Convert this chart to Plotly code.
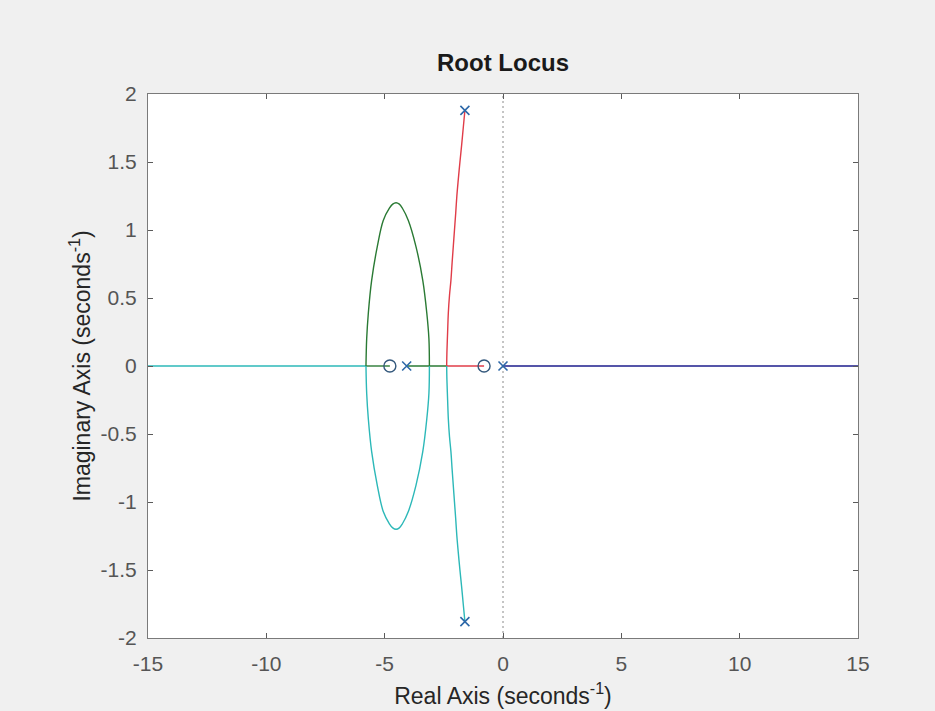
import plotly.graph_objects as go

# ---- data ----
pole_re = [0.0, -4.07, -1.61, -1.61]
pole_im = [0.0, 0.0, 1.88, -1.88]
zero_re = [-0.80, -4.78]
zero_im = [0.0, 0.0]

# upper half of the loop (green branch)
loop_up_re = [-3.11, -3.13, -3.22, -3.39, -3.68, -4.00, -4.25, -4.38, -4.52, -4.66, -4.80, -5.06, -5.31, -5.55, -5.69, -5.76, -5.79]
loop_up_im = [0.00, 0.20, 0.39, 0.63, 0.88, 1.07, 1.16, 1.19, 1.20, 1.19, 1.16, 1.07, 0.88, 0.63, 0.39, 0.20, 0.00]
# lower half of the loop (cyan branch)
loop_dn_re = [-3.11, -3.13, -3.22, -3.39, -3.68, -4.00, -4.25, -4.38, -4.52, -4.66, -4.80, -5.06, -5.31, -5.55, -5.69, -5.76, -5.79]
loop_dn_im = [0.00, -0.20, -0.39, -0.63, -0.88, -1.07, -1.16, -1.19, -1.20, -1.19, -1.16, -1.07, -0.88, -0.63, -0.39, -0.20, 0.00]

# upper complex branch (red)
red_re = [-2.38, -2.37, -2.34, -2.31, -2.26, -2.20, -2.15, -2.10, -2.05, -2.00, -1.95, -1.89, -1.82, -1.75, -1.68, -1.61]
red_im = [0.00, 0.10, 0.25, 0.39, 0.52, 0.63, 0.76, 0.88, 1.00, 1.12, 1.25, 1.37, 1.50, 1.62, 1.75, 1.88]
# lower complex branch (cyan)
cyan_re = [-2.38, -2.37, -2.34, -2.31, -2.26, -2.20, -2.15, -2.10, -2.05, -2.00, -1.95, -1.89, -1.82, -1.75, -1.68, -1.61]
cyan_im = [0.00, -0.10, -0.25, -0.39, -0.52, -0.63, -0.76, -0.88, -1.00, -1.12, -1.25, -1.37, -1.50, -1.62, -1.75, -1.88]

# real-axis segments [start, end]
seg_cyan_left = [-15.0, -5.79]
seg_green_a = [-5.79, -4.78]
seg_green_b = [-4.07, -2.38]
seg_red = [-2.38, -0.80]
seg_blue = [0.0, 15.0]

x_ticks = [-15, -10, -5, 0, 5, 10, 15]
x_tick_text = ["-15", "-10", "-5", "0", "5", "10", "15"]
y_ticks = [-2, -1.5, -1, -0.5, 0, 0.5, 1, 1.5, 2]
y_tick_text = ["-2", "-1.5", "-1", "-0.5", "0", "0.5", "1", "1.5", "2"]

C_BLUE = "#1c1c8c"
C_GREEN = "#2a7a34"
C_RED = "#e03c48"
C_CYAN = "#2cb8b8"
C_MARK = "#2d68a8"
C_ZERO = "#34587c"
FONT = "Liberation Sans, Arial, sans-serif"

fig = go.Figure()

def line(xs, ys, color, shape="linear"):
    fig.add_trace(go.Scatter(x=xs, y=ys, mode="lines",
                             line=dict(color=color, width=1.4, shape=shape),
                             hoverinfo="skip", showlegend=False))

# dotted imaginary axis
fig.add_trace(go.Scatter(x=[0, 0], y=[-2, 2], mode="lines",
                         line=dict(color="#8a8a8a", width=1, dash="2px,3px"),
                         hoverinfo="skip", showlegend=False))

line(seg_blue, [0, 0], C_BLUE)
line(seg_cyan_left, [0, 0], C_CYAN)
line(seg_green_a, [0, 0], C_GREEN)
line(seg_green_b, [0, 0], C_GREEN)
line(seg_red, [0, 0], C_RED)
line(loop_dn_re, loop_dn_im, C_CYAN, "spline")
line(loop_up_re, loop_up_im, C_GREEN, "spline")
line(cyan_re, cyan_im, C_CYAN, "spline")
line(red_re, red_im, C_RED, "spline")

fig.add_trace(go.Scatter(x=zero_re, y=zero_im, mode="markers",
                         marker=dict(symbol="circle-open", size=12, color=C_ZERO,
                                     line=dict(color=C_ZERO, width=1.4)),
                         hoverinfo="skip", showlegend=False))
fig.add_trace(go.Scatter(x=pole_re, y=pole_im, mode="markers",
                         marker=dict(symbol="x-thin-open", size=9, color=C_MARK,
                                     line=dict(color=C_MARK, width=1.6)),
                         hoverinfo="skip", showlegend=False))

axis_common = dict(showgrid=False, zeroline=False, showline=True,
                   linecolor="#7a7a7a", linewidth=1, mirror="ticks",
                   ticks="inside", ticklen=5, tickcolor="#5a5a5a",
                   automargin=False,
                   tickfont=dict(family=FONT, size=21, color="#555555"))

fig.update_layout(
    width=935, height=711,
    margin=dict(l=148, r=77, t=94, b=73),
    paper_bgcolor="#f0f0f0", plot_bgcolor="#ffffff",
    title=dict(text="<b>Root Locus</b>", x=503 / 935, xanchor="center",
               y=1 - 63 / 711, yanchor="middle",
               font=dict(family=FONT, size=24, color="#1a1a1a")),
    xaxis=dict(range=[-15, 15], tickvals=x_ticks, ticktext=x_tick_text,
               ticklabelstandoff=7,
               title=dict(text="Real Axis (seconds<sup>-1</sup>)", standoff=13,
                          font=dict(family=FONT, size=23, color="#262626")),
               **axis_common),
    yaxis=dict(range=[-2, 2], tickvals=y_ticks, ticktext=y_tick_text,
               ticklabelstandoff=6,
               title=dict(text="Imaginary Axis (seconds<sup>-1</sup>)", standoff=3,
                          font=dict(family=FONT, size=23, color="#262626")),
               **axis_common),
)

fig.write_html("out.html")
